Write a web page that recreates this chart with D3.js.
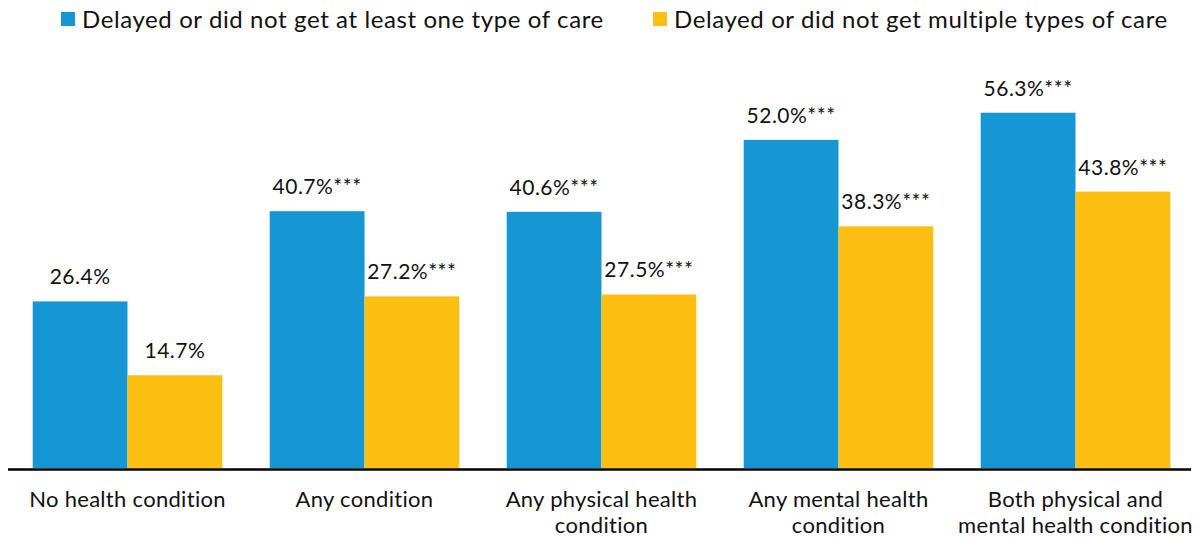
<!DOCTYPE html>
<html lang="en">
<head>
  <meta charset="UTF-8">
  <title>Delayed or unmet care by health condition</title>
  <style>
    body { margin: 0; background: #fff; }
    text { font-family: 'Lato', sans-serif; fill: #111; }
  </style>
</head>
<body>
  <div id="chart"></div>
  <script src="https://cdn.jsdelivr.net/npm/d3@7"></script>
  <script>
    // Data
    const categories = [
      ['No health condition'],
      ['Any condition'],
      ['Any physical health', 'condition'],
      ['Any mental health', 'condition'],
      ['Both physical and', 'mental health condition']
    ];
    const seriesNames = [
      'Delayed or did not get at least one type of care',
      'Delayed or did not get multiple types of care'
    ];
    const atLeastOne = [26.4, 40.7, 40.6, 52.0, 56.3];
    const multiple = [14.7, 27.2, 27.5, 38.3, 43.8];
    const atLeastOneSig = ['', '***', '***', '***', '***'];
    const multipleSig = ['', '***', '***', '***', '***'];
    const colors = ['#1696d2', '#fdbf11'];

    const width = 1198, height = 537;
    const baseline = 468;

    const svg = d3.select('#chart').append('svg')
      .attr('width', width)
      .attr('height', height);

    // Outer band = condition group, inner band = series
    const x0 = d3.scaleBand()
      .domain(d3.range(categories.length))
      .range([9, 1194])
      .paddingInner(0.2)
      .paddingOuter(0.1);

    const x1 = d3.scaleBand()
      .domain([0, 1])
      .range([0, x0.bandwidth()]);

    const y = d3.scaleLinear()
      .domain([0, 60])
      .range([baseline, baseline - 60 * 6.31]);

    const rows = categories.map((c, i) => ({
      i,
      values: [
        { s: 0, v: atLeastOne[i], sig: atLeastOneSig[i] },
        { s: 1, v: multiple[i], sig: multipleSig[i] }
      ]
    }));

    const groups = svg.selectAll('.group')
      .data(rows).enter()
      .append('g')
      .attr('class', 'group')
      .attr('transform', d => `translate(${x0(d.i)},0)`);

    groups.selectAll('rect')
      .data(d => d.values).enter()
      .append('rect')
      .attr('x', d => x1(d.s))
      .attr('y', d => y(d.v))
      .attr('width', x1.bandwidth())
      .attr('height', d => baseline - y(d.v))
      .style('fill', d => colors[d.s]);

    groups.selectAll('.value')
      .data(d => d.values).enter()
      .append('text')
      .attr('class', 'value')
      .attr('x', d => x1(d.s) + x1.bandwidth() / 2)
      .attr('y', d => y(d.v) - 17)
      .style('text-anchor', 'middle')
      .style('font-size', '21px')
      .style('letter-spacing', '0.5px')
      .text(d => d.v.toFixed(1) + '%' + d.sig);

    // Baseline
    svg.append('line')
      .attr('x1', 8).attr('x2', 1191)
      .attr('y1', baseline + 1.5).attr('y2', baseline + 1.5)
      .style('stroke', '#000')
      .style('stroke-width', 2.5);

    // Category labels
    const catLabels = svg.selectAll('.cat')
      .data(rows).enter()
      .append('text')
      .attr('class', 'cat')
      .attr('x', d => x0(d.i) + x0.bandwidth() / 2)
      .attr('y', 507)
      .style('text-anchor', 'middle')
      .style('font-size', '22px')
      .style('letter-spacing', '0.3px');

    catLabels.selectAll('tspan')
      .data(d => categories[d.i]).enter()
      .append('tspan')
      .attr('x', function () { return this.parentNode.getAttribute('x'); })
      .attr('dy', (d, i) => i === 0 ? 0 : 25.5)
      .text(d => d);

    // Legend
    const legendX = [61, 653];
    const legend = svg.selectAll('.legend')
      .data(seriesNames).enter()
      .append('g')
      .attr('class', 'legend')
      .attr('transform', (d, i) => `translate(${legendX[i]}, 12)`);

    legend.append('rect')
      .attr('width', 14)
      .attr('height', 14)
      .style('fill', (d, i) => colors[i]);

    legend.append('text')
      .attr('x', 21)
      .attr('y', 15.5)
      .style('font-size', '24px')
      .style('letter-spacing', '0.6px')
      .text(d => d);
  </script>
</body>
</html>
